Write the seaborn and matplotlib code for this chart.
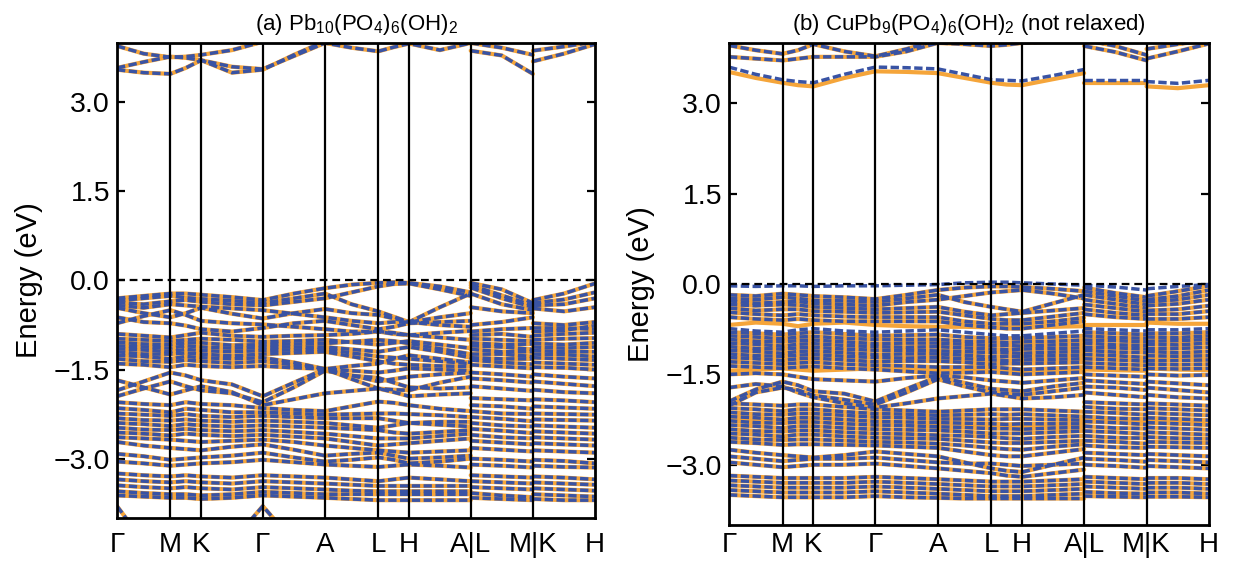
import numpy as np
import pandas as pd
import matplotlib
matplotlib.use("Agg")
import matplotlib.pyplot as plt
import seaborn as sns

# ======================================================
# k-PATH  (hexagonal cell, lengths in units of |Gamma-M|)
# ======================================================

SEG_LEN = [1.0, 0.577, 1.155, 1.165, 1.0, 0.577, 1.155, 1.165, 1.165]
HS_LABELS = ["Γ", "M", "K", "Γ", "A", "L", "H", "A|L", "M|K", "H"]

# every band: 21 energies (eV) read at
# Γ . M . K . Γ . A . L . H . A | L . M | K . H

# ======================================================
# PANEL (a)  Pb10(PO4)6(OH)2  -- both spins identical
# ======================================================

a_cond = [
    [3.55, 3.50, 3.48, 3.58, 3.71, 3.60, 3.56, 3.78, 4.00, 3.92, 3.86, 3.93, 3.99, 3.88, 4.00, 3.87, 3.79, 3.48, 3.69, 3.82, 3.98],
    [3.95, 3.82, 3.76, 3.77, 3.80, 3.88, 4.02, 4.15, 4.20, 4.20, 4.20, 4.20, 4.20, 4.20, 4.20, 4.00, 3.92, 3.80, 3.87, 3.94, 4.02],
    [3.58, 3.68, 3.77, 3.75, 3.71, 3.50, 3.55, 3.80, 4.03, 4.10, 4.15, 4.15, 4.15, 4.15, 4.10, 4.10, 4.10, 4.05, 4.10, 4.10, 4.10],
]

a_top = [
    [-0.30, -0.26, -0.22, -0.22, -0.24, -0.28, -0.33, -0.22, -0.13, -0.07, -0.04, -0.03, -0.04, -0.10, -0.20, -0.04, -0.15, -0.38, -0.33, -0.22, -0.05],
    [-0.34, -0.30, -0.26, -0.29, -0.31, -0.34, -0.38, -0.30, -0.22, -0.40, -0.52, -0.61, -0.70, -0.45, -0.22, -0.08, -0.25, -0.42, -0.38, -0.32, -0.20],
    [-0.37, -0.40, -0.35, -0.33, -0.36, -0.40, -0.42, -0.36, -0.30, -0.20, -0.10, -0.06, -0.05, -0.15, -0.26, -0.12, -0.30, -0.45, -0.42, -0.40, -0.30],
    [-0.42, -0.46, -0.40, -0.42, -0.44, -0.47, -0.50, -0.56, -0.62, -0.68, -0.72, -0.70, -0.70, -0.62, -0.55, -0.22, -0.40, -0.50, -0.47, -0.52, -0.45],
    [-0.46, -0.55, -0.62, -0.55, -0.46, -0.56, -0.64, -0.55, -0.48, -0.55, -0.58, -0.64, -0.70, -0.75, -0.78, -0.45, -0.52, -0.55, -0.72, -0.75, -0.70],
    [-0.72, -0.60, -0.50, -0.58, -0.68, -0.72, -0.74, -0.78, -0.82, -0.86, -0.86, -0.90, -0.92, -0.88, -0.85, -0.75, -0.70, -0.62, -0.80, -0.80, -0.82],
    [-0.62, -0.70, -0.72, -0.76, -0.82, -0.86, -0.80, -0.72, -0.68, -0.75, -0.82, -0.78, -0.72, -0.70, -0.68, -0.86, -0.82, -0.80, -0.86, -0.84, -0.76],
]

a_mid = [
    [-0.90, -0.93, -0.96, -0.92, -0.88, -0.93, -0.95, -0.93, -0.92, -0.90, -0.86, -0.88, -0.92, -0.96, -1.00, -0.92, -0.90, -0.95, -0.93, -0.90, -0.88],
    [-0.98, -1.00, -1.02, -1.00, -0.98, -1.00, -1.03, -1.02, -1.00, -1.04, -1.08, -1.05, -1.02, -1.08, -1.14, -0.98, -1.00, -1.02, -1.00, -0.98, -0.97],
    [-1.04, -1.07, -1.08, -1.05, -1.05, -1.09, -1.08, -1.07, -1.06, -1.03, -1.00, -1.02, -1.06, -1.15, -1.24, -1.05, -1.08, -1.07, -1.06, -1.08, -1.05],
    [-1.10, -1.12, -1.14, -1.10, -1.12, -1.14, -1.13, -1.12, -1.12, -1.16, -1.20, -1.16, -1.12, -1.20, -1.30, -1.10, -1.12, -1.16, -1.12, -1.14, -1.12],
    [-1.15, -1.17, -1.20, -1.16, -1.18, -1.20, -1.18, -1.17, -1.16, -1.22, -1.28, -1.30, -1.32, -1.36, -1.40, -1.16, -1.20, -1.20, -1.18, -1.20, -1.20],
    [-1.20, -1.24, -1.24, -1.22, -1.24, -1.27, -1.24, -1.22, -1.20, -1.28, -1.36, -1.40, -1.42, -1.44, -1.45, -1.24, -1.24, -1.28, -1.24, -1.25, -1.28],
    [-1.26, -1.28, -1.32, -1.28, -1.30, -1.32, -1.30, -1.38, -1.49, -1.44, -1.40, -1.32, -1.26, -1.32, -1.38, -1.30, -1.32, -1.32, -1.30, -1.32, -1.34],
    [-1.32, -1.36, -1.37, -1.34, -1.36, -1.39, -1.36, -1.42, -1.49, -1.52, -1.55, -1.52, -1.48, -1.50, -1.52, -1.34, -1.38, -1.41, -1.38, -1.40, -1.42],
    [-1.40, -1.42, -1.46, -1.42, -1.44, -1.46, -1.44, -1.47, -1.49, -1.60, -1.70, -1.66, -1.62, -1.58, -1.55, -1.42, -1.45, -1.48, -1.46, -1.47, -1.50],
    [-1.85, -1.70, -1.55, -1.60, -1.68, -1.75, -1.95, -1.72, -1.49, -1.66, -1.82, -1.84, -1.85, -1.72, -1.62, -1.55, -1.58, -1.62, -1.58, -1.62, -1.65],
    [-1.95, -1.82, -1.70, -1.78, -1.85, -1.90, -2.05, -1.80, -1.52, -1.60, -1.64, -1.72, -1.80, -1.82, -1.80, -1.65, -1.68, -1.72, -1.70, -1.74, -1.78],
    [-1.68, -1.80, -1.92, -1.85, -1.78, -1.88, -2.10, -2.00, -1.90, -1.86, -1.82, -1.88, -1.95, -1.92, -1.90, -1.78, -1.82, -1.86, -1.84, -1.88, -1.90],
]

a_low = [
    [-2.05, -2.08, -2.10, -2.05, -2.08, -2.10, -2.15, -2.18, -2.20, -2.12, -2.04, -2.06, -2.10, -2.16, -2.20, -1.98, -2.00, -2.02, -2.00, -2.02, -2.05],
    [-2.15, -2.18, -2.22, -2.16, -2.18, -2.22, -2.22, -2.24, -2.26, -2.25, -2.24, -2.24, -2.25, -2.27, -2.30, -2.10, -2.12, -2.16, -2.12, -2.14, -2.16],
    [-2.24, -2.26, -2.28, -2.25, -2.28, -2.30, -2.28, -2.30, -2.32, -2.32, -2.32, -2.36, -2.40, -2.38, -2.38, -2.20, -2.24, -2.25, -2.24, -2.25, -2.26],
    [-2.32, -2.35, -2.36, -2.34, -2.36, -2.38, -2.36, -2.38, -2.40, -2.44, -2.48, -2.44, -2.40, -2.43, -2.46, -2.30, -2.33, -2.37, -2.34, -2.35, -2.36],
    [-2.40, -2.42, -2.45, -2.42, -2.44, -2.46, -2.44, -2.46, -2.48, -2.50, -2.52, -2.56, -2.58, -2.55, -2.52, -2.40, -2.44, -2.46, -2.44, -2.46, -2.48],
    [-2.48, -2.51, -2.52, -2.50, -2.52, -2.54, -2.52, -2.55, -2.58, -2.62, -2.66, -2.66, -2.66, -2.62, -2.58, -2.50, -2.53, -2.57, -2.54, -2.56, -2.58],
    [-2.56, -2.58, -2.61, -2.58, -2.60, -2.62, -2.60, -2.63, -2.66, -2.72, -2.78, -2.76, -2.74, -2.70, -2.66, -2.60, -2.64, -2.66, -2.64, -2.66, -2.68],
    [-2.64, -2.66, -2.68, -2.70, -2.72, -2.70, -2.68, -2.72, -2.78, -2.82, -2.86, -2.88, -2.90, -2.88, -2.86, -2.70, -2.73, -2.76, -2.74, -2.76, -2.78],
    [-2.72, -2.78, -2.82, -2.84, -2.86, -2.80, -2.76, -2.85, -2.95, -2.92, -2.90, -2.95, -3.00, -2.98, -2.95, -2.82, -2.85, -2.88, -2.86, -2.88, -2.90],
    [-2.92, -2.96, -3.02, -3.00, -2.98, -2.95, -2.90, -2.98, -3.05, -3.02, -2.98, -3.02, -3.08, -3.05, -3.00, -3.00, -3.02, -3.05, -3.02, -3.04, -3.08],
    [-3.05, -3.08, -3.12, -3.10, -3.08, -3.06, -3.02, -3.06, -3.10, -3.12, -3.14, -3.12, -3.10, -3.12, -3.15, -3.10, -3.12, -3.15, -3.12, -3.14, -3.15],
    [-3.25, -3.28, -3.30, -3.28, -3.30, -3.32, -3.28, -3.30, -3.32, -3.35, -3.38, -3.35, -3.32, -3.35, -3.38, -3.28, -3.30, -3.32, -3.30, -3.32, -3.35],
    [-3.35, -3.38, -3.40, -3.38, -3.40, -3.42, -3.38, -3.40, -3.42, -3.44, -3.46, -3.46, -3.46, -3.46, -3.46, -3.38, -3.40, -3.42, -3.40, -3.42, -3.44],
    [-3.45, -3.48, -3.50, -3.48, -3.50, -3.52, -3.48, -3.50, -3.52, -3.54, -3.55, -3.55, -3.55, -3.55, -3.55, -3.48, -3.50, -3.52, -3.50, -3.52, -3.54],
    [-3.55, -3.58, -3.60, -3.60, -3.62, -3.60, -3.56, -3.58, -3.60, -3.60, -3.60, -3.60, -3.60, -3.60, -3.60, -3.58, -3.62, -3.65, -3.60, -3.62, -3.64],
    [-3.62, -3.64, -3.66, -3.66, -3.68, -3.66, -3.62, -3.64, -3.66, -3.68, -3.70, -3.70, -3.70, -3.70, -3.70, -3.66, -3.68, -3.70, -3.68, -3.70, -3.70],
    [-3.80, -4.40, -4.60, -4.60, -4.60, -4.40, -3.80, -4.40, -4.60, -4.60, -4.60, -4.60, -4.60, -4.60, -4.60, -4.60, -4.60, -4.60, -4.60, -4.60, -4.60],
]

# ======================================================
# PANEL (b)  CuPb9(PO4)6(OH)2 -- spin up (orange) / down (blue)
# ======================================================

b_cond_both = [
    [3.77, 3.74, 3.71, 3.74, 3.77, 3.77, 3.77, 3.86, 4.00, 3.98, 3.95, 3.97, 4.00, 4.02, 4.03, 3.95, 3.85, 3.71, 3.74, 3.86, 3.99],
    [3.96, 3.88, 3.82, 3.88, 3.98, 3.86, 3.78, 3.90, 4.05, 4.08, 4.10, 4.10, 4.10, 4.08, 4.05, 4.05, 3.95, 3.80, 3.90, 3.98, 4.05],
]
b_cond_up = [
    [3.52, 3.42, 3.34, 3.30, 3.28, 3.42, 3.53, 3.52, 3.50, 3.42, 3.34, 3.31, 3.30, 3.40, 3.50, 3.34, 3.34, 3.34, 3.28, 3.25, 3.30],
]
b_cond_dn = [
    [3.60, 3.48, 3.39, 3.36, 3.34, 3.48, 3.60, 3.59, 3.57, 3.48, 3.39, 3.38, 3.37, 3.46, 3.56, 3.39, 3.39, 3.39, 3.36, 3.33, 3.38],
]

b_top_both = [
    [-0.18, -0.20, -0.16, -0.18, -0.20, -0.22, -0.25, -0.18, -0.10, -0.06, -0.04, -0.04, -0.05, -0.08, -0.12, -0.06, -0.15, -0.22, -0.20, -0.12, -0.03],
    [-0.24, -0.26, -0.22, -0.24, -0.27, -0.28, -0.30, -0.24, -0.18, -0.30, -0.38, -0.42, -0.46, -0.32, -0.18, -0.12, -0.20, -0.28, -0.26, -0.20, -0.10],
    [-0.28, -0.32, -0.30, -0.29, -0.32, -0.34, -0.36, -0.30, -0.26, -0.20, -0.14, -0.12, -0.10, -0.16, -0.24, -0.18, -0.26, -0.34, -0.30, -0.26, -0.18],
    [-0.34, -0.36, -0.34, -0.35, -0.38, -0.40, -0.42, -0.40, -0.38, -0.46, -0.52, -0.50, -0.48, -0.44, -0.40, -0.26, -0.33, -0.40, -0.36, -0.33, -0.26],
    [-0.40, -0.44, -0.42, -0.42, -0.45, -0.46, -0.48, -0.47, -0.46, -0.52, -0.58, -0.60, -0.60, -0.54, -0.48, -0.34, -0.40, -0.46, -0.44, -0.42, -0.36],
    [-0.47, -0.50, -0.52, -0.50, -0.52, -0.54, -0.55, -0.55, -0.55, -0.62, -0.66, -0.66, -0.66, -0.62, -0.56, -0.42, -0.48, -0.52, -0.50, -0.50, -0.45],
    [-0.55, -0.58, -0.60, -0.58, -0.60, -0.62, -0.62, -0.62, -0.62, -0.68, -0.72, -0.74, -0.74, -0.68, -0.62, -0.50, -0.55, -0.58, -0.58, -0.58, -0.55],
]
b_top_up = [
    [-0.68, -0.64, -0.66, -0.70, -0.66, -0.64, -0.68, -0.70, -0.71, -0.71, -0.72, -0.72, -0.72, -0.71, -0.70, -0.68, -0.68, -0.68, -0.64, -0.66, -0.66],
    [-0.95, -0.90, -0.88, -0.92, -0.95, -0.90, -0.88, -0.94, -0.98, -1.00, -1.02, -1.00, -0.98, -0.96, -0.95, -0.90, -0.92, -0.95, -0.96, -0.98, -0.96],
    [-1.26, -1.22, -1.20, -1.24, -1.26, -1.22, -1.20, -1.24, -1.26, -1.28, -1.30, -1.28, -1.26, -1.25, -1.24, -1.22, -1.24, -1.26, -1.25, -1.26, -1.25],
    [-1.44, -1.42, -1.40, -1.42, -1.44, -1.42, -1.40, -1.42, -1.44, -1.44, -1.44, -1.45, -1.46, -1.45, -1.44, -1.42, -1.43, -1.44, -1.40, -1.42, -1.43],
    [-2.22, -2.26, -2.28, -2.24, -2.22, -2.26, -2.28, -2.30, -2.32, -2.34, -2.36, -2.36, -2.36, -2.34, -2.32, -2.26, -2.28, -2.30, -2.28, -2.28, -2.30],
]
b_top_dn = [
    [-0.03, -0.04, -0.03, -0.03, -0.04, -0.03, -0.03, -0.02, -0.01, 0.02, 0.03, 0.03, 0.02, 0.00, -0.02, -0.02, -0.05, -0.10, -0.08, -0.04, -0.01],
    [-0.74, -0.78, -0.80, -0.76, -0.74, -0.78, -0.80, -0.78, -0.76, -0.80, -0.84, -0.86, -0.86, -0.82, -0.78, -0.74, -0.76, -0.78, -0.76, -0.76, -0.74],
]

b_mid_both = [
    [-0.80, -0.82, -0.84, -0.82, -0.80, -0.83, -0.86, -0.85, -0.84, -0.88, -0.90, -0.90, -0.90, -0.88, -0.86, -0.80, -0.82, -0.84, -0.82, -0.82, -0.80],
    [-0.86, -0.88, -0.91, -0.88, -0.87, -0.90, -0.92, -0.92, -0.92, -0.95, -0.96, -0.97, -0.96, -0.95, -0.93, -0.86, -0.89, -0.90, -0.88, -0.89, -0.86],
    [-0.92, -0.95, -0.96, -0.94, -0.93, -0.96, -0.99, -0.98, -0.98, -1.00, -1.02, -1.02, -1.03, -1.01, -1.00, -0.93, -0.94, -0.96, -0.95, -0.94, -0.92],
    [-0.98, -1.00, -1.03, -1.00, -0.99, -1.02, -1.04, -1.05, -1.04, -1.06, -1.08, -1.09, -1.08, -1.07, -1.06, -0.98, -1.01, -1.02, -1.00, -1.01, -0.98],
    [-1.04, -1.07, -1.08, -1.06, -1.05, -1.08, -1.10, -1.10, -1.11, -1.12, -1.14, -1.14, -1.15, -1.13, -1.12, -1.05, -1.06, -1.08, -1.07, -1.07, -1.05],
    [-1.10, -1.12, -1.15, -1.12, -1.11, -1.14, -1.17, -1.16, -1.16, -1.18, -1.21, -1.20, -1.20, -1.19, -1.18, -1.10, -1.13, -1.14, -1.12, -1.14, -1.12],
    [-1.16, -1.19, -1.20, -1.18, -1.17, -1.20, -1.22, -1.23, -1.22, -1.24, -1.26, -1.27, -1.26, -1.25, -1.24, -1.17, -1.19, -1.22, -1.19, -1.20, -1.19],
    [-1.22, -1.24, -1.27, -1.24, -1.23, -1.26, -1.29, -1.28, -1.28, -1.30, -1.33, -1.32, -1.32, -1.31, -1.30, -1.24, -1.26, -1.28, -1.27, -1.27, -1.26],
    [-1.29, -1.31, -1.33, -1.31, -1.30, -1.33, -1.35, -1.36, -1.38, -1.38, -1.38, -1.40, -1.42, -1.40, -1.38, -1.31, -1.33, -1.35, -1.33, -1.34, -1.33],
    [-1.36, -1.38, -1.40, -1.38, -1.37, -1.40, -1.42, -1.45, -1.48, -1.47, -1.46, -1.48, -1.50, -1.48, -1.46, -1.38, -1.40, -1.42, -1.40, -1.41, -1.40],
    [-1.50, -1.48, -1.50, -1.54, -1.58, -1.60, -1.62, -1.56, -1.52, -1.55, -1.60, -1.62, -1.64, -1.60, -1.56, -1.50, -1.52, -1.54, -1.50, -1.52, -1.51],
    [-1.95, -1.75, -1.62, -1.68, -1.78, -1.82, -1.95, -1.74, -1.54, -1.64, -1.74, -1.76, -1.78, -1.70, -1.64, -1.60, -1.63, -1.66, -1.62, -1.65, -1.68],
    [-2.02, -1.80, -1.72, -1.76, -1.85, -1.92, -2.00, -1.80, -1.58, -1.70, -1.80, -1.82, -1.84, -1.78, -1.72, -1.70, -1.72, -1.76, -1.72, -1.76, -1.80],
    [-1.72, -1.66, -1.70, -1.80, -1.88, -1.98, -2.05, -1.98, -1.90, -1.86, -1.82, -1.86, -1.90, -1.88, -1.84, -1.80, -1.84, -1.88, -1.84, -1.88, -1.90],
]

b_low_both = [
    [-1.98, -2.00, -2.02, -2.00, -2.00, -2.04, -2.08, -2.10, -2.12, -2.10, -2.08, -2.08, -2.08, -2.10, -2.12, -1.96, -1.98, -2.00, -1.98, -2.00, -2.02],
    [-2.06, -2.08, -2.11, -2.08, -2.08, -2.12, -2.15, -2.16, -2.18, -2.17, -2.16, -2.17, -2.16, -2.18, -2.20, -2.04, -2.07, -2.08, -2.06, -2.08, -2.10],
    [-2.13, -2.16, -2.17, -2.15, -2.15, -2.18, -2.21, -2.22, -2.24, -2.24, -2.25, -2.24, -2.24, -2.25, -2.26, -2.12, -2.14, -2.17, -2.14, -2.16, -2.18],
    [-2.20, -2.22, -2.25, -2.22, -2.22, -2.25, -2.28, -2.29, -2.30, -2.31, -2.32, -2.33, -2.32, -2.32, -2.32, -2.20, -2.23, -2.24, -2.22, -2.24, -2.26],
    [-2.27, -2.30, -2.31, -2.29, -2.29, -2.32, -2.34, -2.35, -2.37, -2.38, -2.40, -2.40, -2.41, -2.39, -2.38, -2.28, -2.30, -2.33, -2.30, -2.32, -2.34],
    [-2.34, -2.36, -2.39, -2.36, -2.36, -2.39, -2.41, -2.42, -2.43, -2.45, -2.48, -2.48, -2.48, -2.46, -2.44, -2.36, -2.39, -2.40, -2.38, -2.40, -2.42],
    [-2.41, -2.44, -2.45, -2.43, -2.43, -2.46, -2.48, -2.49, -2.51, -2.52, -2.54, -2.56, -2.57, -2.54, -2.52, -2.44, -2.46, -2.49, -2.46, -2.48, -2.50],
    [-2.48, -2.50, -2.53, -2.50, -2.50, -2.53, -2.55, -2.56, -2.57, -2.60, -2.63, -2.64, -2.64, -2.62, -2.60, -2.52, -2.55, -2.56, -2.54, -2.56, -2.57],
    [-2.55, -2.58, -2.59, -2.58, -2.58, -2.60, -2.62, -2.63, -2.65, -2.68, -2.72, -2.74, -2.75, -2.70, -2.66, -2.60, -2.62, -2.65, -2.62, -2.63, -2.64],
    [-2.62, -2.64, -2.67, -2.66, -2.66, -2.67, -2.68, -2.70, -2.72, -2.78, -2.84, -2.86, -2.86, -2.80, -2.74, -2.68, -2.71, -2.72, -2.70, -2.71, -2.72],
    [-2.75, -2.80, -2.84, -2.86, -2.88, -2.84, -2.78, -2.82, -2.86, -2.96, -3.06, -3.10, -3.12, -3.00, -2.88, -2.80, -2.82, -2.84, -2.82, -2.84, -2.86],
    [-2.86, -2.90, -2.94, -2.92, -2.90, -2.90, -2.88, -2.92, -2.96, -2.98, -2.98, -3.00, -3.02, -3.00, -2.98, -2.90, -2.92, -2.95, -2.92, -2.94, -2.96],
    [-2.96, -3.00, -3.04, -3.02, -3.00, -3.00, -2.98, -3.02, -3.06, -3.10, -3.14, -3.18, -3.20, -3.14, -3.08, -3.00, -3.02, -3.05, -3.02, -3.04, -3.06],
    [-3.18, -3.20, -3.22, -3.22, -3.22, -3.22, -3.20, -3.22, -3.24, -3.26, -3.28, -3.28, -3.28, -3.26, -3.24, -3.20, -3.22, -3.24, -3.22, -3.22, -3.24],
    [-3.26, -3.28, -3.30, -3.30, -3.30, -3.30, -3.28, -3.30, -3.32, -3.34, -3.36, -3.36, -3.36, -3.34, -3.32, -3.28, -3.30, -3.32, -3.30, -3.30, -3.32],
    [-3.34, -3.36, -3.38, -3.38, -3.38, -3.38, -3.36, -3.38, -3.40, -3.42, -3.44, -3.44, -3.44, -3.42, -3.40, -3.36, -3.38, -3.40, -3.38, -3.38, -3.40],
    [-3.42, -3.44, -3.46, -3.46, -3.46, -3.46, -3.44, -3.46, -3.48, -3.50, -3.52, -3.52, -3.52, -3.50, -3.48, -3.45, -3.47, -3.48, -3.46, -3.46, -3.48],
    [-3.50, -3.52, -3.54, -3.54, -3.54, -3.54, -3.52, -3.54, -3.55, -3.56, -3.56, -3.56, -3.56, -3.56, -3.56, -3.52, -3.53, -3.54, -3.53, -3.53, -3.54],
]

TITLES = [r"(a) Pb$_{10}$(PO$_4$)$_6$(OH)$_2$",
          r"(b) CuPb$_9$(PO$_4$)$_6$(OH)$_2$ (not relaxed)"]
YTICKS = [-3.0, -1.5, 0.0, 1.5, 3.0]

ORANGE = "#f5a53a"
BLUE = "#3953a4"

# ======================================================
# HELPERS
# ======================================================

nodes = np.concatenate([[0.0], np.cumsum(SEG_LEN)])


def seg_k(i):
    return [nodes[i], 0.5 * (nodes[i] + nodes[i + 1])]


k_main = sum([seg_k(i) for i in range(7)], []) + [nodes[7]]
k_parts = [k_main, seg_k(7) + [nodes[8]], seg_k(8) + [nodes[9]]]
cuts = [(0, 15), (15, 18), (18, 21)]


def to_frame(bands):
    rows = []
    for b, vals in enumerate(bands):
        for p, (i0, i1) in enumerate(cuts):
            for k, e in zip(k_parts[p], vals[i0:i1]):
                rows.append({"k": k, "E": e, "unit": f"{b}-{p}"})
    return pd.DataFrame(rows)


def draw_panel(ax, up, dn, title, xpad):
    sns.lineplot(data=to_frame(up), x="k", y="E", units="unit",
                 estimator=None, sort=False, color=ORANGE, linewidth=3.0,
                 solid_joinstyle="round", ax=ax)
    sns.lineplot(data=to_frame(dn), x="k", y="E", units="unit",
                 estimator=None, sort=False, color=BLUE, linewidth=2.5,
                 linestyle=(0, (2.4, 1.0)), ax=ax)
    ax.axhline(0.0, color="black", lw=1.6, ls=(0, (3.5, 2.2)), zorder=4)
    for x in nodes[1:-1]:
        ax.axvline(x, color="black", lw=1.6, zorder=4)
    ax.set_xlim(nodes[0], nodes[-1])
    ax.set_ylim(-4.0, 4.0)
    ax.set_xticks(nodes)
    ax.set_xticklabels(HS_LABELS)
    ax.set_yticks(YTICKS)
    ax.set_yticklabels([f"{t:.1f}".replace("-", "\u2212") for t in YTICKS])
    ax.set_xlabel("")
    ax.set_ylabel("Energy (eV)", fontsize=21, labelpad=8, color="black")
    ax.set_title(title, fontsize=16, pad=9, color="black")
    ax.tick_params(axis="y", direction="in", length=6, width=1.6,
                   right=True, labelsize=20.5, pad=5, colors="black")
    ax.tick_params(axis="x", length=0, labelsize=20, pad=xpad, colors="black")
    for s in ax.spines.values():
        s.set_linewidth(2.0)
        s.set_color("black")
        s.set_zorder(5)


# ======================================================
# FIGURE
# ======================================================

sns.set_theme(style="ticks")
plt.rcParams["font.family"] = ["Liberation Sans", "DejaVu Sans"]
plt.rcParams["text.color"] = "black"
plt.rcParams["mathtext.fontset"] = "custom"
plt.rcParams["mathtext.rm"] = "Liberation Sans"
plt.rcParams["mathtext.it"] = "Liberation Sans:italic"
plt.rcParams["mathtext.default"] = "regular"

fig = plt.figure(figsize=(12.33, 5.62), dpi=100)
ax_a = fig.add_axes([0.0949, 0.0783, 0.3877, 0.8452])
ax_b = fig.add_axes([0.5912, 0.0658, 0.3893, 0.8577])

a_bands = a_cond + a_top + a_mid + a_low
draw_panel(ax_a, a_bands, a_bands, TITLES[0], xpad=10)

b_up = b_cond_both + b_cond_up + b_top_both + b_top_up + b_mid_both + b_low_both
b_dn = b_cond_both + b_cond_dn + b_top_both + b_top_dn + b_mid_both + b_low_both
draw_panel(ax_b, b_up, b_dn, TITLES[1], xpad=5)

fig.savefig("out.png", dpi=100)
